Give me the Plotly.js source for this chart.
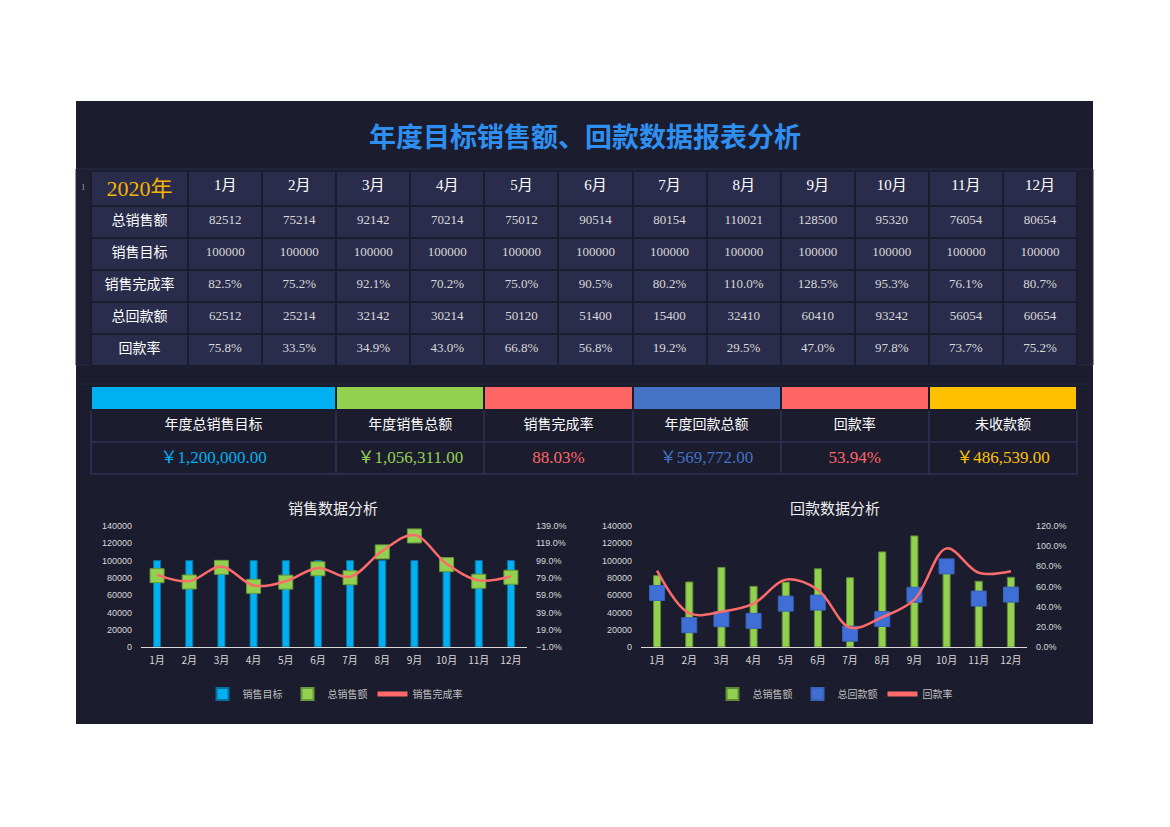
<!DOCTYPE html>
<html>
<head>
<meta charset="utf-8">
<script src="https://cdn.plot.ly/plotly-3.0.1.min.js"></script>
<style>
html, body { margin: 0; padding: 0; background: #ffffff; }
#board { width: 1170px; height: 827px; }
</style>
</head>
<body>
<div id="board"></div>
<script>
// data
var months = ['1月','2月','3月','4月','5月','6月','7月','8月','9月','10月','11月','12月'];
var sales = [82512, 75214, 92142, 70214, 75012, 90514, 80154, 110021, 128500, 95320, 76054, 80654];
var target = [100000, 100000, 100000, 100000, 100000, 100000, 100000, 100000, 100000, 100000, 100000, 100000];
var salesRate = [82.5, 75.2, 92.1, 70.2, 75.0, 90.5, 80.2, 110.0, 128.5, 95.3, 76.1, 80.7];
var returns = [62512, 25214, 32142, 30214, 50120, 51400, 15400, 32410, 60410, 93242, 56054, 60654];
var returnRate = [75.8, 33.5, 34.9, 43.0, 66.8, 56.8, 19.2, 29.5, 47.0, 97.8, 73.7, 75.2];

var rowLabels = ['总销售额', '销售目标', '销售完成率', '总回款额', '回款率'];
var yearLabel = '2020年';

var kpiLabels = ['年度总销售目标', '年度销售总额', '销售完成率', '年度回款总额', '回款率', '未收款额'];
var kpiValues = ['￥1,200,000.00', '￥1,056,311.00', '88.03%', '￥569,772.00', '53.94%', '￥486,539.00'];
var kpiColors = ['#00b0f0', '#92d050', '#ff6666', '#4472c4', '#ff6666', '#ffc000'];

var W = 1170, H = 827;
function px(x) { return x / W; }
function py(y) { return 1 - y / H; }

var panel = '#1b1c2e';
var cellBg = '#2a2c4c';
var serif = 'Liberation Serif, Noto Sans CJK SC, serif';
var sans = 'Noto Sans CJK SC, sans-serif';

// main table columns
var cols = [rowLabels];
for (var i = 0; i < months.length; i++) {
  cols.push([String(sales[i]), String(target[i]), salesRate[i].toFixed(1) + '%',
             String(returns[i]), returnRate[i].toFixed(1) + '%']);
}
var headVals = [yearLabel].concat(months);
var headColors = ['#f5b400'], headSizes = [22], cellFamilies = [sans], cellSizes = [14], cellColors = ['#ffffff'];
for (var i = 0; i < months.length; i++) {
  headColors.push('#ffffff'); headSizes.push(15);
  cellFamilies.push(serif); cellSizes.push(13); cellColors.push('#d9d9d9');
}
var colW = [97];
for (var i = 0; i < months.length; i++) colW.push(74);

var mainTable = {
  type: 'table',
  domain: {x: [px(91), px(1078)], y: [py(369), py(171)]},
  columnwidth: colW,
  header: {
    values: headVals,
    height: 35,
    align: 'center',
    fill: {color: cellBg},
    line: {color: panel, width: 2},
    font: {family: serif, size: headSizes, color: headColors}
  },
  cells: {
    values: cols,
    height: 32,
    align: 'center',
    fill: {color: cellBg},
    line: {color: panel, width: 2},
    font: {family: cellFamilies, size: cellSizes, color: cellColors}
  }
};

var kpiCols = [], kpiFont = [], kpiFam = [], kpiSize = [];
for (var i = 0; i < kpiLabels.length; i++) {
  kpiCols.push([kpiLabels[i], kpiValues[i]]);
  kpiFont.push(['#ffffff', kpiColors[i]]);
  kpiFam.push([sans, serif]);
  kpiSize.push([14, 17]);
}
var kpiHead = kpiLabels.map(function () { return ''; });

var kpiTable = {
  type: 'table',
  domain: {x: [px(91), px(1078)], y: [py(477), py(386)]},
  columnwidth: [245, 148, 148, 148, 148, 148],
  header: {
    values: kpiHead,
    height: 24,
    fill: {color: kpiColors},
    line: {color: panel, width: 2}
  },
  cells: {
    values: kpiCols,
    height: 32,
    align: 'center',
    fill: {color: panel},
    line: {color: '#2a2c4c', width: 2},
    font: {family: kpiFam, size: kpiSize, color: kpiFont}
  }
};

// chart 1: 销售数据分析
var targetBars = {
  type: 'bar', x: months, y: target, name: '销售目标', xaxis: 'x', yaxis: 'y', legend: 'legend',
  width: 0.22, marker: {color: '#00b0f0', line: {color: '#0b6f9e', width: 1}}
};
var salesPts = {
  type: 'scatter', mode: 'markers', x: months, y: sales, name: '总销售额', xaxis: 'x', yaxis: 'y', legend: 'legend',
  marker: {symbol: 'square', size: 14, color: '#92d050', line: {color: '#6b9a3c', width: 1}}
};
var salesLine = {
  type: 'scatter', mode: 'lines', x: months, y: salesRate, name: '销售完成率', xaxis: 'x', yaxis: 'y2', legend: 'legend',
  line: {color: '#ff6b6b', width: 2.5, shape: 'spline', smoothing: 1}
};

// chart 2: 回款数据分析
var salesBars = {
  type: 'bar', x: months, y: sales, name: '总销售额', xaxis: 'x2', yaxis: 'y3', legend: 'legend2',
  width: 0.22, marker: {color: '#92d050', line: {color: '#5f8a34', width: 1}}
};
var returnPts = {
  type: 'scatter', mode: 'markers', x: months, y: returns, name: '总回款额', xaxis: 'x2', yaxis: 'y3', legend: 'legend2',
  marker: {symbol: 'square', size: 15, color: '#3f6fd6', line: {color: '#3a62b8', width: 1}}
};
var returnLine = {
  type: 'scatter', mode: 'lines', x: months, y: returnRate, name: '回款率', xaxis: 'x2', yaxis: 'y4', legend: 'legend2',
  line: {color: '#ff6b6b', width: 2.5, shape: 'spline', smoothing: 1}
};

var tickFont = {family: 'Liberation Sans, sans-serif', size: 9, color: '#d9d9d9'};
var monthFont = {family: sans, size: 10, color: '#d9d9d9'};
var yDom = [py(647), py(526)];

function xAx(d, anchor) {
  return {domain: d, anchor: anchor, type: 'category', range: [-0.5, 11.5], showline: true, linecolor: '#d9d9d9',
          linewidth: 1, ticks: '', showgrid: false, zeroline: false, tickfont: monthFont, ticklabelstandoff: 4,
          fixedrange: true};
}
function yAx(anchor, range, dtick) {
  return {domain: yDom, anchor: anchor, range: range, dtick: dtick, tick0: 0, showgrid: false, zeroline: false,
          showline: false, ticks: '', tickfont: tickFont, tickformat: 'd', ticklabelstandoff: 8, fixedrange: true};
}
function rAx(over, anchor, range, tick0) {
  return {overlaying: over, side: 'right', anchor: anchor, range: range, tick0: tick0, dtick: 20,
          tickformat: '.1f', ticksuffix: '%', showgrid: false, zeroline: false, ticks: '', tickfont: tickFont,
          ticklabelstandoff: 8, fixedrange: true};
}
function legendAt(cx) {
  return {orientation: 'h', x: px(cx), xanchor: 'center', y: py(694), yanchor: 'middle', itemsizing: 'constant',
          bgcolor: 'rgba(0,0,0,0)', font: {family: sans, size: 10, color: '#bfbfbf'}};
}
function label(text, x, y, size, color, fam) {
  return {text: text, xref: 'paper', yref: 'paper', x: px(x), y: py(y), xanchor: 'center', yanchor: 'middle',
          showarrow: false, font: {family: fam || sans, size: size, color: color}};
}

var layout = {
  width: W, height: H,
  margin: {l: 0, r: 0, t: 0, b: 0},
  paper_bgcolor: '#ffffff',
  plot_bgcolor: 'rgba(0,0,0,0)',
  showlegend: true,
  xaxis: xAx([px(141), px(527)], 'y'),
  yaxis: yAx('x', [0, 140000], 20000),
  yaxis2: rAx('y', 'x', [-1, 139], -1),
  xaxis2: xAx([px(641), px(1027)], 'y3'),
  yaxis3: yAx('x2', [0, 140000], 20000),
  yaxis4: rAx('y3', 'x2', [0, 120], 0),
  legend: legendAt(335),
  legend2: legendAt(835),
  shapes: [
    {type: 'rect', xref: 'paper', yref: 'paper', x0: px(76), x1: px(1093), y0: py(724), y1: py(101),
     fillcolor: panel, line: {width: 0}, layer: 'below'},
    {type: 'rect', xref: 'paper', yref: 'paper', x0: px(76), x1: px(1093), y0: py(365), y1: py(169),
     fillcolor: '#1e1f33', line: {color: '#2a2c44', width: 1}, layer: 'below'},
    {type: 'line', xref: 'paper', yref: 'paper', x0: px(76), x1: px(1093), y0: py(384), y1: py(384),
     line: {color: '#23253a', width: 1}, layer: 'below'}
  ],
  annotations: [
    label('<b>年度目标销售额、回款数据报表分析</b>', 585, 136, 27, '#2e8ff0'),
    label('销售数据分析', 333, 507, 15, '#eeeeee'),
    label('回款数据分析', 835, 507, 15, '#eeeeee'),
    label('1', 83, 187, 9, '#9a9aa8', serif)
  ]
};

Plotly.newPlot('board', [mainTable, kpiTable, targetBars, salesPts, salesLine, salesBars, returnPts, returnLine],
  layout, {displayModeBar: false, staticPlot: true});
</script>
</body>
</html>
